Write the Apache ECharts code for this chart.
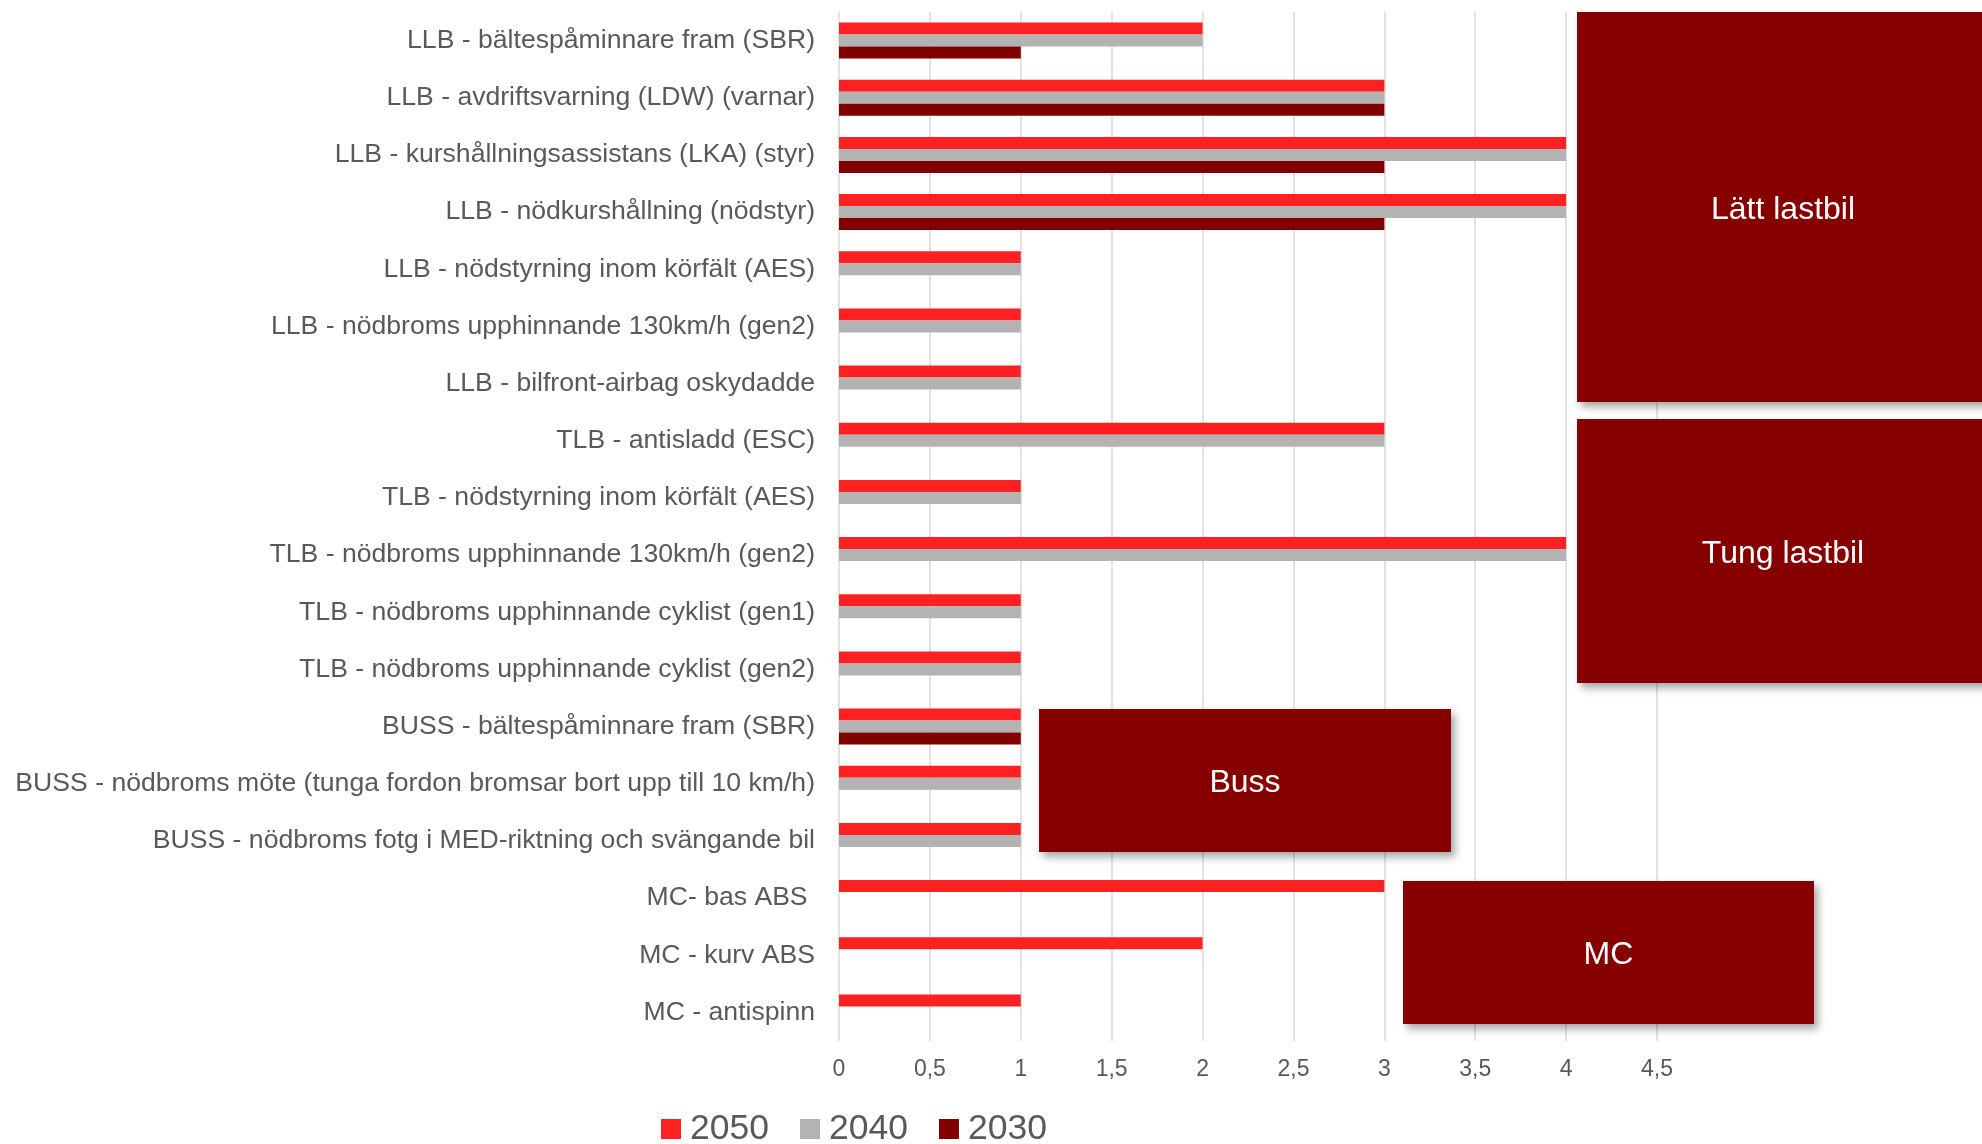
<!DOCTYPE html>
<html>
<head>
<meta charset="utf-8">
<script src="https://cdn.jsdelivr.net/npm/echarts@6/dist/echarts.min.js"></script>
<style>
  html, body { margin: 0; padding: 0; background: #fff; }
  #main { width: 1982px; height: 1144px; }
</style>
</head>
<body>
<div id="main"></div>
<script>
// kategorier (uppifrån och ned)
var categories = [
  'LLB - bältespåminnare fram (SBR)',
  'LLB - avdriftsvarning (LDW) (varnar)',
  'LLB - kurshållningsassistans (LKA) (styr)',
  'LLB - nödkurshållning (nödstyr)',
  'LLB - nödstyrning inom körfält (AES)',
  'LLB - nödbroms upphinnande 130km/h (gen2)',
  'LLB - bilfront-airbag oskydadde',
  'TLB - antisladd (ESC)',
  'TLB - nödstyrning inom körfält (AES)',
  'TLB - nödbroms upphinnande 130km/h (gen2)',
  'TLB - nödbroms upphinnande cyklist (gen1)',
  'TLB - nödbroms upphinnande cyklist (gen2)',
  'BUSS - bältespåminnare fram (SBR)',
  'BUSS - nödbroms möte (tunga fordon bromsar bort upp till 10 km/h)',
  'BUSS - nödbroms fotg i MED-riktning och svängande bil',
  'MC- bas ABS ',
  'MC - kurv ABS',
  'MC - antispinn'
];
var years = ['2050', '2040', '2030'];
var values2050 = [2, 3, 4, 4, 1, 1, 1, 3, 1, 4, 1, 1, 1, 1, 1, 3, 2, 1];
var values2040 = [2, 3, 4, 4, 1, 1, 1, 3, 1, 4, 1, 1, 1, 1, 1, 0, 0, 0];
var values2030 = [1, 3, 3, 3, 0, 0, 0, 0, 0, 0, 0, 0, 1, 0, 0, 0, 0, 0];
var groupNames = ['Lätt lastbil', 'Tung lastbil', 'Buss', 'MC'];

var font = "'Liberation Sans', Arial, sans-serif";
var textGray = '#595959';
var boxColor = '#860000';

var myChart = echarts.init(document.getElementById('main'));

// rutor med fordonsgrupp, ovanpå rutnätet
function box(x, y, w, h, name) {
  return {
    type: 'group',
    left: x, top: y,
    z: 100,
    children: [
      {
        type: 'rect',
        z: 100,
        shape: { x: 0, y: 0, width: w, height: h },
        style: {
          fill: boxColor,
          shadowBlur: 8,
          shadowOffsetX: 4,
          shadowOffsetY: 5,
          shadowColor: 'rgba(0,0,0,0.35)'
        }
      },
      {
        type: 'text',
        z: 101,
        x: w / 2, y: h / 2 + 3,
        style: {
          text: name,
          fill: '#fff',
          font: '32px ' + font,
          align: 'center',
          verticalAlign: 'middle'
        }
      }
    ]
  };
}

var option = {
  animation: false,
  textStyle: { fontFamily: font },
  grid: {
    left: 839,
    right: 325,
    top: 12,
    bottom: 103,
    containLabel: false
  },
  legend: {
    data: years,
    left: 661,
    top: 1111,
    padding: 0,
    itemWidth: 20,
    itemHeight: 20,
    itemGap: 31,
    icon: 'rect',
    textStyle: {
      color: textGray,
      fontSize: 35.5,
      fontFamily: font,
      padding: [0, 0, 0, 4]
    }
  },
  xAxis: {
    type: 'value',
    min: 0,
    max: 4.5,
    interval: 0.5,
    axisLine: { show: false },
    axisTick: { show: false },
    axisLabel: {
      color: textGray,
      fontSize: 23,
      margin: 17,
      formatter: function (v) { return String(v).replace('.', ','); }
    },
    splitLine: {
      show: true,
      lineStyle: { color: '#d9d9d9', width: 1.5 }
    }
  },
  yAxis: {
    type: 'category',
    data: categories,
    inverse: true,
    axisLine: { show: false },
    axisTick: { show: false },
    axisLabel: {
      color: textGray,
      fontSize: 26.6,
      margin: 24
    }
  },
  series: [
    {
      name: '2050', type: 'bar', data: values2050,
      barWidth: 12, barGap: '0%',
      itemStyle: { color: '#ff2121' }
    },
    {
      name: '2040', type: 'bar', data: values2040,
      barWidth: 12, barGap: '0%',
      itemStyle: { color: '#b3b3b3' }
    },
    {
      name: '2030', type: 'bar', data: values2030,
      barWidth: 12, barGap: '0%',
      itemStyle: { color: '#800000' }
    }
  ],
  graphic: [
    box(1577, 12, 412, 390, groupNames[0]),
    box(1577, 419, 412, 264, groupNames[1]),
    box(1039, 709, 412, 143, groupNames[2]),
    box(1403, 881, 411, 143, groupNames[3])
  ]
};

myChart.setOption(option);
window.addEventListener('resize', function () {
  myChart.resize();
});
</script>
</body>
</html>
